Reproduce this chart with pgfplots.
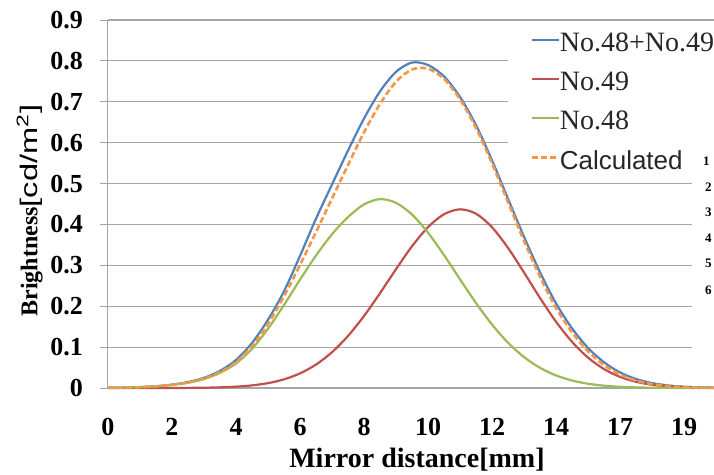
\documentclass[border=0pt]{standalone}
\usepackage{pgfplots}
\pgfplotsset{compat=1.18}
\usepackage{pgfplotstable}
\usepackage{fontspec}
\setmainfont{Liberation Serif}
\newfontfamily\arial{Liberation Sans}
\definecolor{cblue}{RGB}{79,129,189}
\definecolor{cred}{RGB}{192,80,77}
\definecolor{cgreen}{RGB}{155,187,89}
\definecolor{corange}{RGB}{247,150,70}
\definecolor{gridc}{RGB}{165,165,165}
\pgfplotstableread{
x     blue    red     green   calc
0     0.0006  0.0000  0.0005  0.0005
0.5   0.0011  0.0000  0.0010  0.0010
1     0.0022  0.0000  0.0020  0.0020
1.5   0.0044  0.0000  0.0040  0.0040
2     0.0083  0.0001  0.0075  0.0076
2.5   0.0145  0.0003  0.0130  0.0133
3     0.0248  0.0007  0.0220  0.0227
3.5   0.0419  0.0016  0.0370  0.0386
4     0.0685  0.0033  0.0600  0.0633
4.5   0.1100  0.0064  0.0960  0.1024
5     0.1669  0.0119  0.1450  0.1569
5.5   0.2365  0.0212  0.2030  0.2242
6     0.3231  0.0357  0.2650  0.3007
6.5   0.4141  0.0573  0.3240  0.3813
7     0.4978  0.0875  0.3760  0.4635
7.5   0.5806  0.1273  0.4180  0.5453
8     0.6590  0.1761  0.4490  0.6251
8.5   0.7254  0.2319  0.4620  0.6950
9     0.7732  0.2906  0.4529  0.7490
9.5   0.7960  0.3466  0.4243  0.7790
10    0.7900  0.3934  0.3799  0.7810
10.5  0.7620  0.4250  0.3251  0.7560
11    0.7120  0.4370  0.2659  0.7060
11.5  0.6430  0.4263  0.2079  0.6360
12    0.5570  0.3932  0.1553  0.5495
12.5  0.4630  0.3428  0.1109  0.4545
13    0.3700  0.2826  0.0757  0.3600
13.5  0.2830  0.2202  0.0494  0.2720
14    0.2070  0.1622  0.0308  0.1960
14.5  0.1460  0.1130  0.0183  0.1360
15    0.0980  0.0744  0.0104  0.0900
15.5  0.0630  0.0463  0.0057  0.0560
16    0.0380  0.0272  0.0030  0.0330
16.5  0.0220  0.0152  0.0015  0.0180
17    0.0120  0.0080  0.0007  0.0095
17.5  0.0063  0.0040  0.0003  0.0048
18    0.0032  0.0019  0.0001  0.0023
18.5  0.0015  0.0008  0.0000  0.0010
19    0.0007  0.0003  0.0000  0.0004
}\datatable
\begin{document}
\begin{tikzpicture}
\useasboundingbox (-108pt,-86pt) rectangle (606pt,388pt);
\begin{axis}[
  at={(0,0)}, anchor=south west,
  scale only axis, width=584pt, height=368pt,
  xmin=0, xmax=18.25, ymin=0, ymax=0.9,
  clip=false,
  axis lines=left,
  axis line style={-, draw=gridc, line width=1pt},
  xtick={0,2,4,6,8,10,12,14,16,18},
  xticklabels={0,2,4,6,8,10,12,14,17,19},
  ytick={0,0.1,0.2,0.3,0.4,0.5,0.6,0.7,0.8,0.9},
  yticklabels={0,0.1,0.2,0.3,0.4,0.5,0.6,0.7,0.8,0.9},
  xtick style={draw=none},
  ytick style={draw=gridc, line width=1pt},
  tick align=outside, major tick length=8pt,
  ymajorgrids, grid style={gridc, line width=1.2pt},
  ticklabel style={font=\fontsize{26}{26}\selectfont\bfseries, inner sep=0pt},
  yticklabel style={anchor=east, xshift=-17pt},
  xticklabel style={anchor=north, yshift=-22pt},
  xlabel={\fontsize{28}{28}\selectfont\bfseries Mirror distance[mm]},
  xlabel style={at={(axis description cs:0.529,-0.196)}, anchor=center},
  ylabel={\fontsize{24}{24}\selectfont\bfseries Brightness\scalebox{1.36}[1]{\mdseries\arial\fontsize{24}{24}\selectfont[cd/m\textsuperscript{2}]}},
  ylabel style={at={(axis description cs:-0.134,0.482)}, anchor=center},
  legend style={at={(axis cs:12.5,0.883)}, anchor=north west, draw=none, fill=white,
    inner xsep=22pt, inner ysep=4pt,
    font=\fontsize{28}{28}\selectfont, row sep=15pt, text=black!85},
  legend cell align=left,
  legend image code/.code={\draw[#1] (0pt,3pt) -- (27pt,3pt);},
  every axis legend/.append style={nodes={inner xsep=0pt}},
]
\addplot[cblue, line width=2.2pt, smooth] table[x=x, y=blue] {\datatable};
\addlegendentry{No.48+No.49}
\addplot[cred, line width=2.2pt, smooth] table[x=x, y=red] {\datatable};
\addlegendentry{No.49}
\addplot[cgreen, line width=2.2pt, smooth] table[x=x, y=green] {\datatable};
\addlegendentry{No.48}
\addplot[corange, line width=2.6pt, dash pattern=on 6pt off 3pt, smooth] table[x=x, y=calc] {\datatable};
\addlegendentry{\fontsize{26}{26}\selectfont\arial Calculated}
\draw[gridc, line width=1.2pt] (axis cs:18.25,0.9) -- (axis cs:19.2,0.9);
\end{axis}
\begin{scope}[every node/.style={anchor=west, inner sep=0pt, font=\fontsize{13}{13}\selectfont\bfseries}]
\node at (595pt,227pt) {1};
\node at (597pt,201pt) {2};
\node at (597pt,176pt) {3};
\node at (597pt,150pt) {4};
\node at (597pt,125pt) {5};
\node at (597pt,98pt) {6};
\end{scope}
\end{tikzpicture}
\end{document}
